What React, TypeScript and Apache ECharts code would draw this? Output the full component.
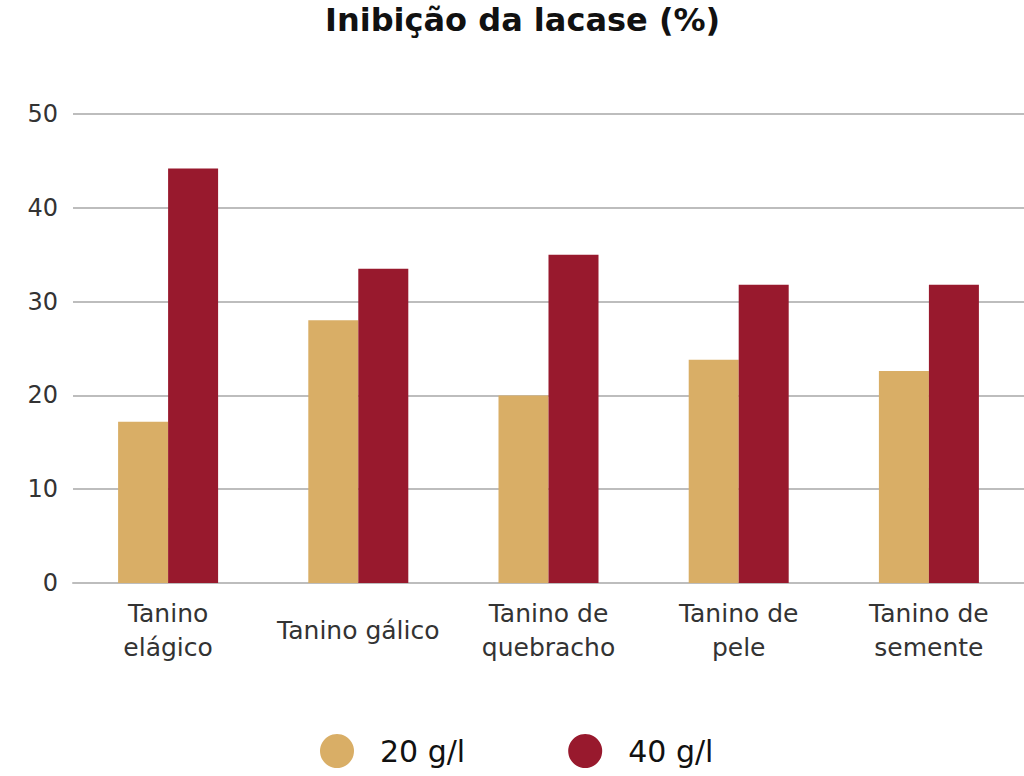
import React, { useEffect, useRef } from "react";
import * as echarts from "echarts";

const categories = ["Tanino\nelágico", "Tanino gálico", "Tanino de\nquebracho", "Tanino de\npele", "Tanino de\nsemente"];
const series20 = [17.2, 28.0, 20.0, 23.8, 22.6];
const series40 = [44.2, 33.5, 35.0, 31.8, 31.8];
const seriesNames = ["20 g/l", "40 g/l"];
const titleText = "Inibição da lacase (%)";

export default function App() {
  const ref = useRef<HTMLDivElement>(null);
  useEffect(() => {
    const chart = echarts.init(ref.current!, null, { renderer: "svg" });
    chart.setOption({
      animation: false,
      textStyle: { fontFamily: "DejaVu Sans" },
      title: {
        text: titleText,
        left: 325,
        top: 4,
        padding: 0,
        textStyle: { fontSize: 32, fontWeight: "bold", color: "#111", fontFamily: "DejaVu Sans" },
      },
      legend: {
        bottom: 8,
        left: 320,
        padding: 0,
        icon: "circle",
        itemWidth: 34,
        itemHeight: 34,
        itemGap: 103,
        textStyle: { fontSize: 30, color: "#111", padding: [0, 0, 0, 21], fontFamily: "DejaVu Sans" },
        data: seriesNames,
      },
      grid: { left: 73, right: 0, top: 114, bottom: 193, containLabel: false },
      xAxis: {
        type: "category",
        data: categories,
        axisTick: { show: false },
        axisLine: { lineStyle: { color: "#bdbdbd", width: 2 } },
        axisLabel: { fontSize: 25, color: "#333", lineHeight: 34, margin: 47, verticalAlign: "middle", interval: 0 },
      },
      yAxis: {
        type: "value",
        min: 0,
        max: 50,
        interval: 10,
        axisLabel: { fontSize: 24, color: "#333", margin: 15 },
        splitLine: { lineStyle: { color: "#bdbdbd", width: 2 } },
      },
      series: [
        { name: seriesNames[0], type: "bar", data: series20, barWidth: 50, barGap: "0%", itemStyle: { color: "#d9ae66" } },
        { name: seriesNames[1], type: "bar", data: series40, barWidth: 50, barGap: "0%", itemStyle: { color: "#98192d" } },
      ],
    });
    return () => chart.dispose();
  }, []);
  return <div ref={ref} style={{ position: "absolute", left: 0, top: 0, width: 1024, height: 776 }} />;
}
